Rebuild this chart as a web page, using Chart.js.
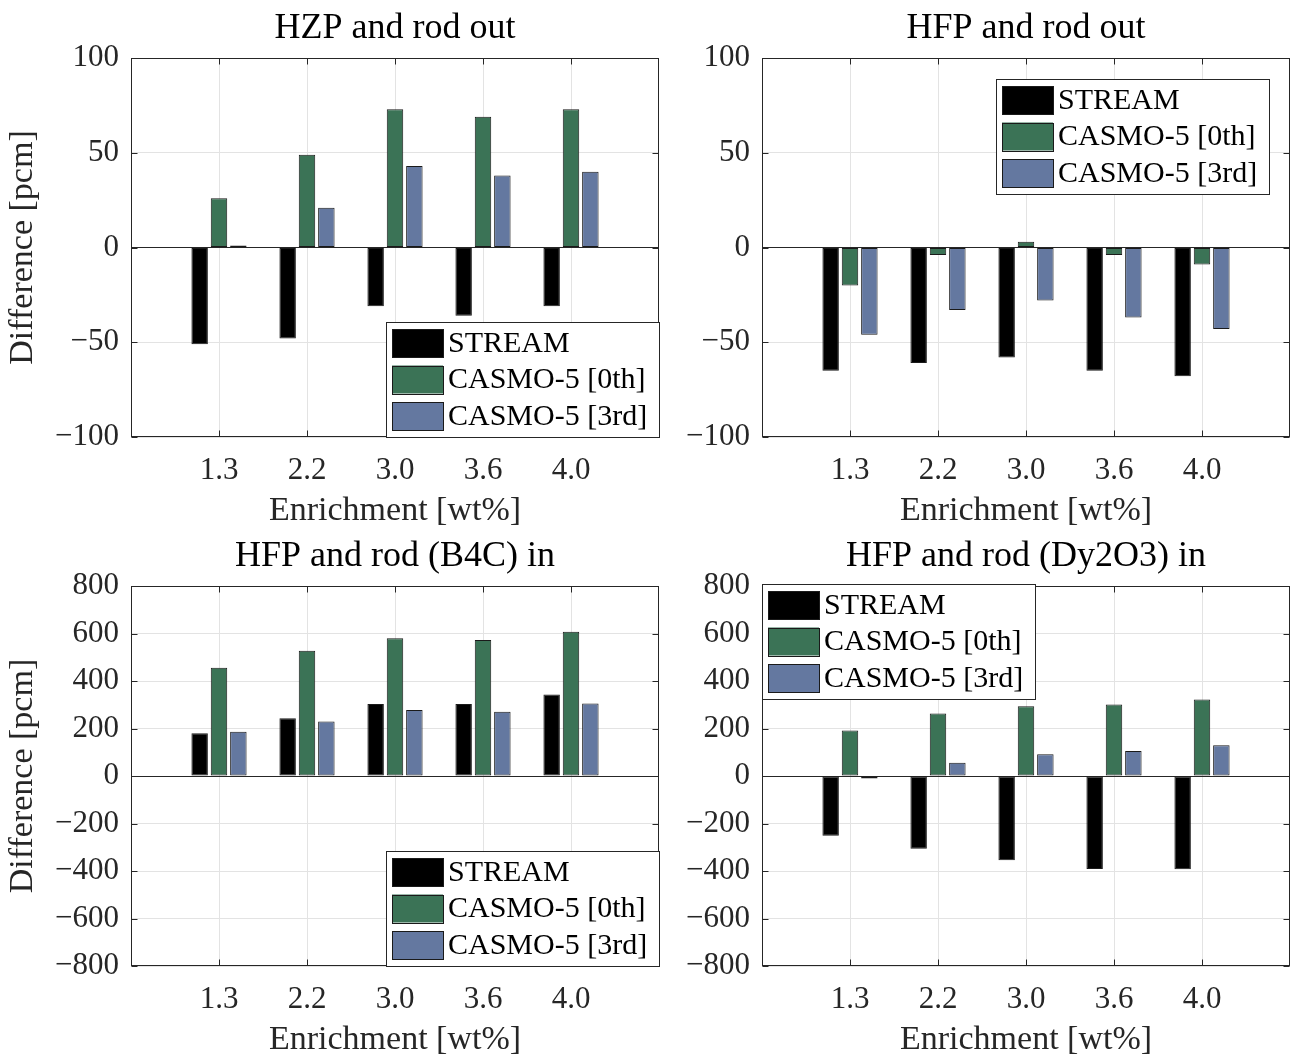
<!DOCTYPE html>
<html>
<head>
<meta charset="utf-8">
<title>Reactivity difference vs enrichment</title>
<script src="https://cdn.jsdelivr.net/npm/chart.js@4.4.0/dist/chart.umd.min.js"></script>
<style>
  html, body { margin: 0; padding: 0; background: #fff; overflow: hidden; }
  #wrap { position: relative; width: 1293px; height: 1057px; }
  canvas { position: absolute; }
</style>
</head>
<body>
<div id="wrap">
  <canvas id="hzpOut" width="662" height="528" style="left:0;top:0"></canvas>
  <canvas id="hfpOut" width="662" height="528" style="left:631px;top:0"></canvas>
  <canvas id="hfpB4c" width="662" height="529" style="left:0;top:528px"></canvas>
  <canvas id="hfpDy" width="662" height="529" style="left:631px;top:528px"></canvas>
</div>
<script>
// enrichment cases
const categories = ["1.3", "2.2", "3.0", "3.6", "4.0"];
const seriesNames = ["STREAM", "CASMO-5 [0th]", "CASMO-5 [3rd]"];
const seriesColors = ["#000000", "#3b7356", "#6478a0"];

// differences [pcm], HZP rod out
const hzpOutStream = [-51, -48, -31, -36, -31];
const hzpOutCasmo0 = [26, 49, 73, 69, 73];
const hzpOutCasmo3 = [1, 21, 43, 38, 40];

// HFP rod out
const hfpOutStream = [-65, -61, -58, -65, -68];
const hfpOutCasmo0 = [-20, -4, 3, -4, -9];
const hfpOutCasmo3 = [-46, -33, -28, -37, -43];

// HFP rod (B4C) in
const b4cInStream = [180, 243, 303, 303, 343];
const b4cInCasmo0 = [456, 527, 580, 573, 607];
const b4cInCasmo3 = [186, 229, 278, 271, 305];

// HFP rod (Dy2O3) in
const dyInStream = [-252, -306, -355, -392, -393];
const dyInCasmo0 = [192, 263, 294, 301, 322];
const dyInCasmo3 = [-10, 56, 92, 105, 130];

const FONT = "'Liberation Serif', 'Times New Roman', serif";
const INK = "#262626";
Chart.defaults.font.family = FONT;
Chart.defaults.color = INK;

const minus = v => (v < 0 ? "\u2212" + Math.abs(v) : String(v));

// title centred over the axes rather than the whole canvas
const axesTitle = {
  id: "axesTitle",
  afterDraw(chart, args, opts) {
    const { ctx, chartArea: a } = chart;
    ctx.save();
    ctx.font = "36px " + FONT;
    ctx.fillStyle = "#000";
    ctx.textAlign = "center";
    ctx.textBaseline = "middle";
    ctx.fillText(opts.text, (a.left + a.right) / 2, 29);
    ctx.restore();
  }
};

// box + inward ticks on all four sides
const framePlugin = {
  id: "frame",
  afterDraw(chart) {
    const { ctx, chartArea: a, scales } = chart;
    const L = Math.round(a.left) + 0.5, R = Math.round(a.right) - 0.5;
    const T = Math.round(a.top) + 0.5, B = Math.round(a.bottom) - 0.5;
    ctx.save();
    ctx.strokeStyle = INK;
    ctx.lineWidth = 1;
    ctx.beginPath();
    scales.x.ticks.forEach(t => {
      if (t.value <= 0 || t.value >= categories.length + 1) return;
      const px = Math.round(scales.x.getPixelForValue(t.value)) + 0.5;
      ctx.moveTo(px, B); ctx.lineTo(px, B - 6);
      ctx.moveTo(px, T); ctx.lineTo(px, T + 6);
    });
    scales.y.ticks.forEach(t => {
      const py = Math.round(scales.y.getPixelForValue(t.value)) + 0.5;
      ctx.moveTo(L, py); ctx.lineTo(L + 6, py);
      ctx.moveTo(R, py); ctx.lineTo(R - 6, py);
    });
    ctx.stroke();
    ctx.strokeRect(L, T, R - L, B - T);
    ctx.restore();
  }
};

// legend drawn inside the axes
const boxLegend = {
  id: "boxLegend",
  afterDraw(chart, args, opts) {
    const { ctx, chartArea: a } = chart;
    const w = 273, h = 115, inset = opts.inset || 0;
    let x, y;
    if (opts.spot === "se") { x = a.right - w - inset; y = a.bottom - h - inset; }
    else if (opts.spot === "ne") { x = a.right - w - inset; y = a.top + inset; }
    else { x = a.left + inset; y = a.top + inset - 2; }
    ctx.save();
    ctx.fillStyle = "#fff";
    ctx.fillRect(x, y, w, h);
    ctx.strokeStyle = INK;
    ctx.lineWidth = 1;
    ctx.strokeRect(Math.round(x) + 0.5, Math.round(y) + 0.5, w, h);
    ctx.font = "30px " + FONT;
    ctx.textBaseline = "middle";
    ctx.textAlign = "left";
    chart.data.datasets.forEach((ds, i) => {
      const sy = y + 7 + i * 36.5;
      ctx.fillStyle = ds.backgroundColor;
      ctx.fillRect(x + 6, sy, 51, 28);
      ctx.strokeStyle = "#1a1a1a";
      ctx.strokeRect(Math.round(x + 6) + 0.5, Math.round(sy) + 0.5, 51, 28);
      ctx.fillStyle = "#000";
      ctx.fillText(ds.label, x + 62, sy + 15);
    });
    ctx.restore();
  }
};

function makePanel(id, title, values, yMin, yMax, yStep, legendOpts, showYTitle) {
  const canvas = document.getElementById(id);
  const datasets = values.map((arr, s) => ({
    label: seriesNames[s],
    data: arr.map((v, i) => ({ x: i + 1, y: v })),
    backgroundColor: seriesColors[s],
    borderColor: "#1a1a1a",
    borderWidth: 1,
    borderSkipped: false,
    categoryPercentage: 0.66,
    barPercentage: 0.85
  }));

  new Chart(canvas, {
    type: "bar",
    data: { datasets },
    plugins: [framePlugin, boxLegend, axesTitle],
    options: {
      responsive: false,
      animation: false,
      layout: { autoPadding: false, padding: { left: 0, right: 3, top: 58, bottom: 0 } },
      plugins: {
        legend: { display: false },
        tooltip: { enabled: false },
        title: { display: false },
        axesTitle: { text: title },
        boxLegend: legendOpts
      },
      scales: {
        x: {
          type: "linear",
          min: 0,
          max: categories.length + 1,
          offset: false,
          grid: {
            offset: false,
            drawTicks: true,
            tickLength: 15,
            tickColor: "rgba(0,0,0,0)",
            color: c => (c.tick.value === 0 || c.tick.value === categories.length + 1 ? "rgba(0,0,0,0)" : "#e3e3e3")
          },
          border: { display: false },
          ticks: {
            stepSize: 1,
            autoSkip: false,
            maxRotation: 0,
            padding: 0,
            color: INK,
            font: { size: 31 },
            callback: v => categories[v - 1] || ""
          },
          title: {
            display: true,
            text: "Enrichment [wt%]",
            color: INK,
            font: { size: 34, lineHeight: 1.0 },
            padding: { top: 0, bottom: 0 }
          },
          afterFit: s => { s.height = 91; }
        },
        y: {
          min: yMin,
          max: yMax,
          grid: {
            drawTicks: false,
            color: c => (c.tick.value === 0 ? INK : "#e3e3e3")
          },
          border: { display: false },
          ticks: {
            stepSize: yStep,
            padding: 12,
            color: INK,
            font: { size: 31 },
            callback: v => minus(v)
          },
          title: {
            display: showYTitle,
            text: "Difference [pcm]",
            color: INK,
            font: { size: 34, lineHeight: 1.0 },
            padding: { top: 6, bottom: 0 }
          },
          afterFit: s => { s.width = 131; }
        }
      }
    }
  });
}

makePanel("hzpOut", "HZP and rod out", [hzpOutStream, hzpOutCasmo0, hzpOutCasmo3],
  -100, 100, 50, { spot: "se", inset: 0 }, true);
makePanel("hfpOut", "HFP and rod out", [hfpOutStream, hfpOutCasmo0, hfpOutCasmo3],
  -100, 100, 50, { spot: "ne", inset: 21 }, false);
makePanel("hfpB4c", "HFP and rod (B4C) in", [b4cInStream, b4cInCasmo0, b4cInCasmo3],
  -800, 800, 200, { spot: "se", inset: 0 }, true);
makePanel("hfpDy", "HFP and rod (Dy2O3) in", [dyInStream, dyInCasmo0, dyInCasmo3],
  -800, 800, 200, { spot: "nw", inset: 0 }, false);
</script>
</body>
</html>
